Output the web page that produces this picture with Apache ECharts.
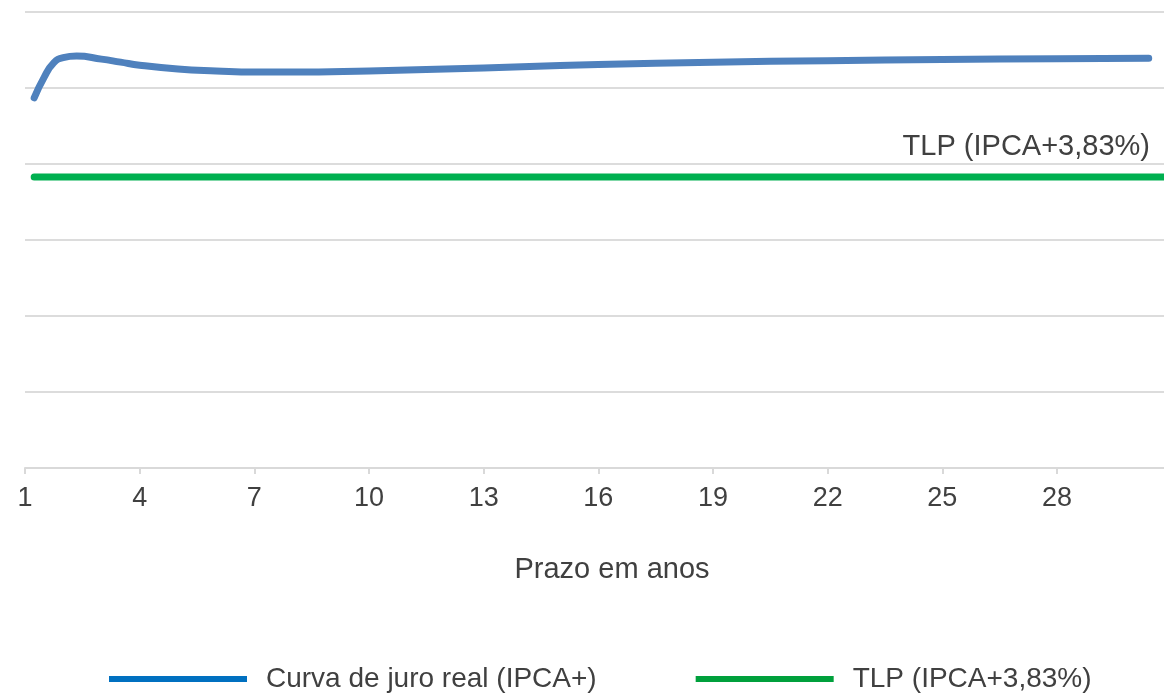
<!DOCTYPE html>
<html>
<head>
<meta charset="utf-8">
<script src="https://cdn.jsdelivr.net/npm/echarts@6/dist/echarts.min.js"></script>
<style>
    html, body {margin:0;padding:0;background:#ffffff;}
    #chart {width:1164px;height:693px;}
</style>
</head>
<body>
<div id="chart"></div>
<script>
    // prazo (anos) e taxa real (% a.a.)
    var curvaPrazo = [1.24, 1.5, 1.75, 2.0, 2.35, 3, 3.5, 4, 5, 6, 7, 8, 10, 12, 14, 16, 19, 22, 25, 28, 30.4];
    var curvaTaxa = [4.87, 5.14, 5.33, 5.40, 5.42, 5.38, 5.34, 5.30, 5.25, 5.225, 5.21, 5.21, 5.225, 5.25, 5.28, 5.31, 5.34, 5.36, 5.375, 5.385, 5.39];
    var tlpPrazo = [1.24, 30.8];
    var tlpTaxa = [3.83, 3.83];
    var xTicks = [1, 4, 7, 10, 13, 16, 19, 22, 25, 28];

    var nomeCurva = 'Curva de juro real (IPCA+)';
    var nomeTlp = 'TLP (IPCA+3,83%)';

    function pares(xs, ys) {
        var out = [];
        for (var i = 0; i < xs.length; i++) {
            out.push([xs[i], ys[i]]);
        }
        return out;
    }

    var myChart = echarts.init(document.getElementById('chart'));

    var option = {
        animation: false,
        textStyle: {fontFamily: 'Liberation Sans'},
        grid: {left: 25, right: 0, top: 12, bottom: 225, containLabel: false},
        legend: {
            left: 104,
            top: 660,
            itemWidth: 138,
            itemHeight: 6,
            itemGap: 99,
            icon: 'rect',
            textStyle: {fontSize: 28, color: '#404040', padding: [0, 0, 0, 14]},
            data: [
                {name: nomeCurva, itemStyle: {color: '#0070c0'}},
                {name: nomeTlp, itemStyle: {color: '#00a03c'}}
            ]
        },
        xAxis: {
            type: 'value',
            min: 1,
            max: 30.8,
            interval: 3,
            name: 'Prazo em anos',
            nameLocation: 'middle',
            nameGap: 87,
            nameTextStyle: {fontSize: 29, color: '#404040', padding: [0, 0, 0, 35]},
            axisLine: {show: true, lineStyle: {color: '#d9d9d9', width: 2}},
            axisTick: {show: true, length: 6, lineStyle: {color: '#d9d9d9', width: 2}},
            axisLabel: {
                fontSize: 27,
                color: '#404040',
                margin: 17,
                showMaxLabel: false,
                formatter: function (v) {
                    return xTicks.indexOf(v) >= 0 ? String(v) : '';
                }
            },
            splitLine: {show: false}
        },
        yAxis: {
            type: 'value',
            min: 0,
            max: 6,
            interval: 1,
            axisLabel: {show: false},
            axisLine: {show: false},
            axisTick: {show: false},
            splitLine: {lineStyle: {color: '#d0d0d0', width: 1.5}}
        },
        series: [
            {
                name: nomeCurva,
                type: 'line',
                smooth: 0.5,
                showSymbol: false,
                symbol: 'none',
                data: pares(curvaPrazo, curvaTaxa),
                lineStyle: {color: '#4f81bd', width: 7, cap: 'round', join: 'round'},
                itemStyle: {color: '#4f81bd'}
            },
            {
                name: nomeTlp,
                type: 'line',
                showSymbol: false,
                symbol: 'none',
                data: pares(tlpPrazo, tlpTaxa),
                lineStyle: {color: '#00b050', width: 7, cap: 'round'},
                itemStyle: {color: '#00b050'},
                markPoint: {
                    symbol: 'circle',
                    symbolSize: 0,
                    silent: true,
                    data: [{
                        coord: [tlpPrazo[tlpPrazo.length - 1], tlpTaxa[tlpTaxa.length - 1]],
                        label: {
                            show: true,
                            formatter: nomeTlp,
                            position: 'top',
                            distance: 15,
                            align: 'right',
                            offset: [-14, 0],
                            fontSize: 29,
                            color: '#404040',
                            fontFamily: 'Liberation Sans'
                        }
                    }]
                }
            }
        ]
    };
    myChart.setOption(option, true);
</script>
</body>
</html>
